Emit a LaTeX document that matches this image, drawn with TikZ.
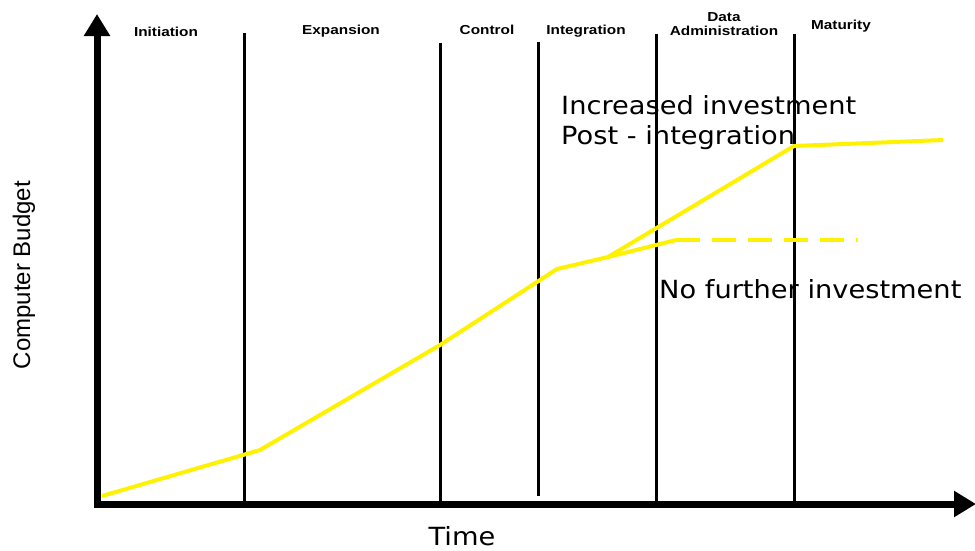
\documentclass[tikz,border=0pt]{standalone}
\usepackage{fontspec}
\setmainfont{DejaVu Sans}
\newfontfamily\arialf{Liberation Sans}
\usetikzlibrary{arrows.meta}
\tikzset{
  axis/.style={line width=7pt, -{Triangle[length=22pt,width=25pt]}},
  divider/.style={line width=3pt, black},
  budget/.style={line width=4pt, yellow, line join=miter},
  phase/.style={font=\arialf\bfseries\fontsize{13}{13.5}\selectfont, align=center, inner sep=0pt, xscale=1.18},
  note/.style={font=\fontsize{25}{30}\selectfont, align=left, inner sep=0pt, anchor=west, xscale=1.09},
}
\begin{document}
\begin{tikzpicture}[x=1pt,y=-1pt]
\useasboundingbox (0,0) rectangle (975,550);
% axes
\coordinate (origin) at (97,504);
\coordinate (ytip) at (97,14);
\coordinate (xtip) at (976,504);
\draw[axis] ([yshift=-3.5pt]origin) -- (ytip);
\draw[axis] ([xshift=-3.5pt]origin) -- (xtip);
% dividers
\draw[divider] (244,33) -- (244,501);
\draw[divider] (440,43) -- (440,501);
\draw[divider] (538,42) -- (538,496);
\draw[divider] (656,34) -- (656,501);
\draw[divider] (794,34) -- (794,501);
% phase labels
\node[phase] (init) at (166,32) {Initiation};
\node[phase] (expa) at (341,31) {Expansion};
\node[phase] (ctrl) at (487,30) {Control};
\node[phase] (intg) at (586,31) {Integration};
\node[phase] (data) at (724,24) {Data\\Administration};
\node[phase] (matu) at (841,26) {Maturity};
% budget curve
\coordinate (p0) at (102,496);
\coordinate (p1) at (260,450);
\coordinate (p2) at (440,345);
\coordinate (p3) at (557,269);
\coordinate (p4) at (608,257);
\coordinate (p5) at (794,146);
\coordinate (p6) at (943,140);
\coordinate (q1) at (676,240);
\coordinate (q2) at (858,240);
\draw[budget] (p0) -- (p1) -- (p2) -- (p3) -- (p4) -- (p5) -- (p6);
\draw[budget] (p4) -- (q1);
\draw[budget, dash pattern=on 24pt off 12pt] (q1) -- (q2);
% notes
\node[note] (inc) at (561,123) {Increased investment\\Post - integration};
\node[note] (nofurther) at (659,289) {No further investment};
\node[font=\fontsize{25}{28}\selectfont, inner sep=0pt, xscale=1.09] (time) at (462,536) {Time};
\node[font=\arialf\fontsize{24}{28}\selectfont, rotate=90, inner sep=0pt] (budgetlbl) at (24,275) {Computer Budget};
\end{tikzpicture}
\end{document}
